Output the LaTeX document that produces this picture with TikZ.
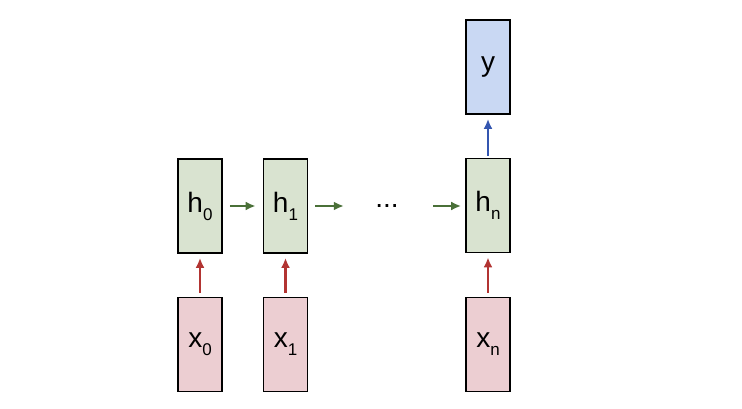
\documentclass[tikz,border=0pt]{standalone}
\usepackage{fontspec}
\setmainfont{Liberation Sans}
\usetikzlibrary{arrows.meta}
\definecolor{hfill}{RGB}{217,227,208}
\definecolor{xfill}{RGB}{236,206,210}
\definecolor{yfill}{RGB}{201,216,243}
\definecolor{garrow}{RGB}{74,112,56}
\definecolor{rarrow}{RGB}{178,52,50}
\definecolor{barrow}{RGB}{52,86,176}
\newcommand{\lbl}[2]{{\fontsize{28}{28}\selectfont #1}\raisebox{-8pt}{\fontsize{17}{17}\selectfont #2}}
\begin{document}
\begin{tikzpicture}[x=1pt,y=-1pt,
  cell/.style={draw=black, line width=1.8pt, minimum width=44pt, minimum height=94pt, inner sep=0pt},
  hcell/.style={cell, fill=hfill},
  xcell/.style={cell, fill=xfill},
  ycell/.style={cell, fill=yfill},
  arr/.style={line width=2.5pt, -{Latex[length=10pt,width=9pt]}},
  garr/.style={arr, draw=garrow, fill=garrow},
  rarr/.style={arr, draw=rarrow, fill=rarrow},
  barr/.style={arr, draw=barrow, fill=barrow}]
\useasboundingbox (0,0) rectangle (742,409);
\node[hcell] (h0) at (200,206) {\lbl{h}{0}};
\node[hcell] (h1) at (285.5,206) {\lbl{h}{1}};
\node[hcell] (hn) at (488,205.5) {\lbl{h}{n}};
\node[ycell] (y) at (488,67) {{\fontsize{28}{28}\selectfont y}};
\node[xcell] (x0) at (200,344.5) {\lbl{x}{0}};
\node[xcell] (x1) at (285.5,344.5) {\lbl{x}{1}};
\node[xcell] (xn) at (488,344.5) {\lbl{x}{n}};
\node[minimum width=60pt, inner sep=0pt] (dots) at (387,206) {{\fontsize{28}{28}\selectfont ...}};
\draw[garr, shorten <=7pt, shorten >=7pt] (h0.east |- 0,206) -- (h1.west |- 0,206);
\draw[garr, shorten <=7pt, shorten >=13pt] (h1.east |- 0,206) -- (dots.west);
\draw[garr, shorten <=16pt, shorten >=4pt] (dots.east) -- (hn.west |- 0,206);
\draw[rarr, shorten <=4pt, shorten >=4pt] (x0.north) -- (h0.south);
\draw[rarr, shorten <=4pt, shorten >=4pt] (x1.north) -- (h1.south);
\draw[rarr, shorten <=4pt, shorten >=4pt] (xn.north) -- (hn.south);
\draw[barr, shorten <=2pt, shorten >=4pt] (hn.north) -- (y.south);
\end{tikzpicture}
\end{document}
